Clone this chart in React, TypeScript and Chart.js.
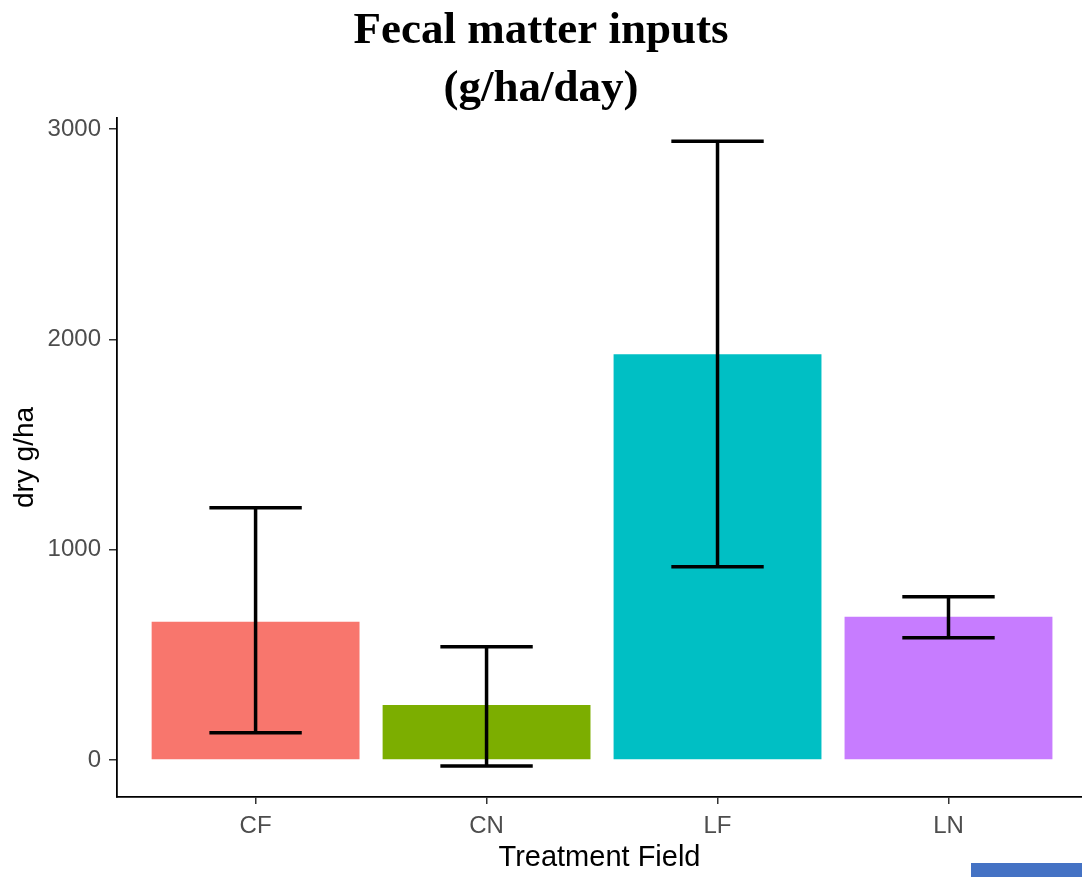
import React, { useEffect, useRef } from "react";
import { Chart, registerables } from "chart.js";

Chart.register(...registerables);

const categories = ["CF", "CN", "LF", "LN"];
const means = [657, 262, 1929, 681];
const lowerErr = [129, -29, 919, 581];
const upperErr = [1200, 538, 2943, 776];
const barColors = ["#F8766D", "#7CAE00", "#00BFC4", "#C77CFF"];
const yTicks = [0, 1000, 2000, 3000];
const titleLines = ["Fecal matter inputs", "(g/ha/day)"];

const errorBarPlugin = {
  id: "errorBars",
  afterDatasetsDraw(chart: any) {
    const { ctx } = chart;
    const xs = chart.scales.x;
    const ys = chart.scales.y;
    ctx.save();
    ctx.strokeStyle = "#000000";
    ctx.lineWidth = 3.5;
    ctx.lineCap = "butt";
    categories.forEach((_, i) => {
      const x = xs.getPixelForValue(i + 1);
      const half = xs.getPixelForValue(i + 1.2) - x;
      const yl = ys.getPixelForValue(lowerErr[i]);
      const yh = ys.getPixelForValue(upperErr[i]);
      ctx.beginPath();
      ctx.moveTo(x, yl);
      ctx.lineTo(x, yh);
      ctx.moveTo(x - half, yh);
      ctx.lineTo(x + half, yh);
      ctx.moveTo(x - half, yl);
      ctx.lineTo(x + half, yl);
      ctx.stroke();
    });
    ctx.restore();
  },
};

export default function App() {
  const ref = useRef<HTMLCanvasElement>(null);
  useEffect(() => {
    if (!ref.current) return;
    const chart = new Chart(ref.current, {
      type: "bar",
      data: {
        datasets: [
          {
            data: categories.map((_, i) => ({ x: i + 1, y: means[i] })),
            backgroundColor: barColors,
            borderWidth: 0,
            barPercentage: 0.9,
            categoryPercentage: 1,
          },
        ],
      },
      options: {
        animation: false,
        responsive: false,
        devicePixelRatio: 1,
        layout: { padding: 0 },
        plugins: {
          legend: { display: false },
          tooltip: { enabled: false },
          title: {
            display: true,
            text: titleLines,
            color: "#000000",
            font: { family: "'Liberation Serif', serif", size: 45, weight: "bold", lineHeight: "58px" },
            padding: { top: 2, bottom: 0 },
          },
        },
        scales: {
          x: {
            type: "linear",
            offset: false,
            min: 0.4,
            max: 4.578,
            afterBuildTicks: (scale: any) => {
              scale.ticks = categories.map((_, i) => ({ value: i + 1 }));
            },
            afterFit: (scale: any) => {
              scale.height = 80;
            },
            ticks: {
              autoSkip: false,
              maxRotation: 0,
              padding: 8,
              color: "#4D4D4D",
              font: { family: "'Liberation Sans', Arial, sans-serif", size: 24 },
              callback: (v: any) => categories[Math.round(Number(v)) - 1] ?? "",
            },
            grid: {
              display: true,
              offset: false,
              drawOnChartArea: false,
              drawTicks: true,
              tickLength: 7,
              tickColor: "#333333",
              lineWidth: 1.5,
            },
            border: { display: true, color: "#000000", width: 1.8 },
            title: {
              display: true,
              text: "Treatment Field",
              color: "#000000",
              font: { family: "'Liberation Sans', Arial, sans-serif", size: 29 },
              padding: { top: 0, bottom: 2 },
            },
          },
          y: {
            type: "linear",
            min: -176,
            max: 3053,
            afterBuildTicks: (scale: any) => {
              scale.ticks = yTicks.map((v) => ({ value: v }));
            },
            afterFit: (scale: any) => {
              scale.width = 117;
            },
            ticks: {
              padding: 8,
              color: "#4D4D4D",
              font: { family: "'Liberation Sans', Arial, sans-serif", size: 24 },
              callback: (v: any) => String(v),
            },
            grid: {
              display: true,
              drawOnChartArea: false,
              drawTicks: true,
              tickLength: 8,
              tickColor: "#333333",
              lineWidth: 1.5,
            },
            border: { display: true, color: "#000000", width: 1.8 },
            title: {
              display: true,
              text: "dry g/ha",
              color: "#000000",
              font: { family: "'Liberation Sans', Arial, sans-serif", size: 28 },
              padding: { top: 8, bottom: 0 },
            },
          },
        },
      },
      plugins: [errorBarPlugin],
    } as any);
    return () => chart.destroy();
  }, []);

  return (
    <div style={{ position: "fixed", left: 0, top: 0, width: 1082, height: 877, background: "#ffffff" }}>
      <canvas ref={ref} width={1082} height={877} style={{ display: "block" }} />
      <div
        style={{ position: "absolute", left: 971, top: 863, width: 111, height: 14, background: "#4472C4" }}
      />
    </div>
  );
}
